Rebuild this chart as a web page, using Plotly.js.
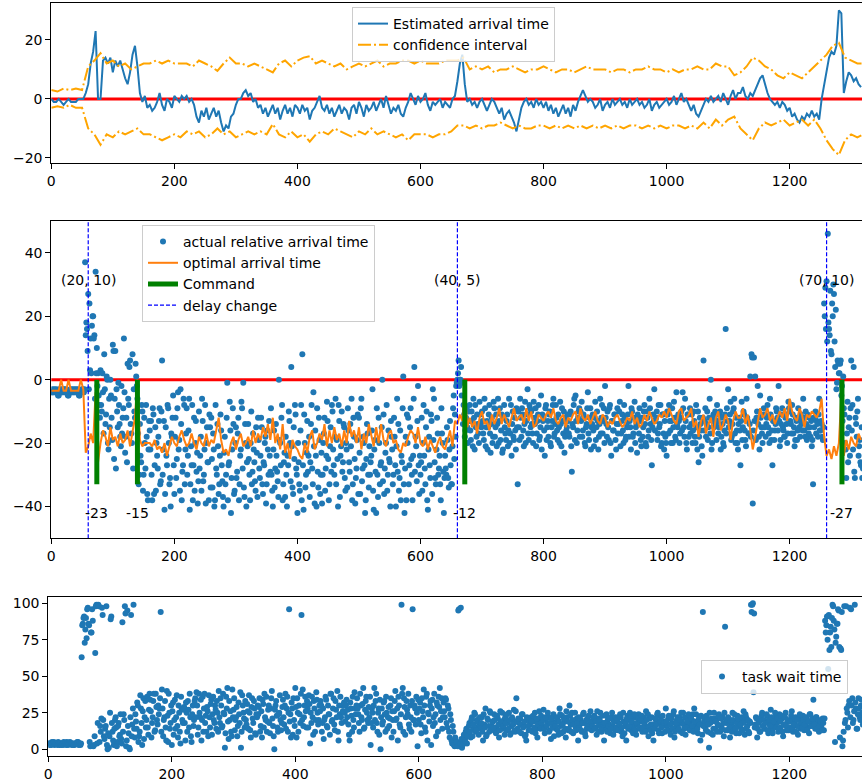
<!DOCTYPE html>
<html><head><meta charset="utf-8">
<script src="https://cdn.plot.ly/plotly-3.0.1.min.js"></script>
<style>html,body{margin:0;padding:0;overflow:hidden;background:#fff;width:862px;height:784px}#chart{width:920px;height:784px}</style>
</head><body><div id="chart"></div>
<script>
// ---------- Panel 1: estimated arrival time ----------
const estStep = 4;
const estimated = [
0,-1,-1,0,-1,-2,-1,0,-1,-1,
-1,0,0,0,2,5,12,16,23,0,
0,13,14,12,14,9,13,11,13,10,
7,5,9,15,18,11,2,-1,1,-3,
-2,-4,-3,-1,2,-2,-4,0,-1,-3,
1,0,-1,1,0,1,-1,0,-2,-6,
-8,-4,-6,-3,-7,-5,-3,-6,-4,-8,
-11,-9,-10,-6,-5,-2,0,0,2,3,
1,2,-1,0,-3,-2,-5,-3,-6,-4,
-2,-5,-3,-7,-4,-2,-5,-3,-6,-2,
-3,-5,-2,-4,-3,-7,-4,-3,-1,1,
-3,-4,-2,-5,-3,-6,-4,-2,-5,-3,
-4,-7,-3,-2,-5,-1,-3,-6,-2,-4,
-3,-1,-4,-2,0,-3,1,-2,-5,-3,
-4,-2,-5,-6,-3,-1,2,0,-2,1,
-1,0,2,-2,-4,-1,-2,-1,0,-3,
-1,-2,-3,0,1,6,12,15,5,-1,
0,-2,-1,-3,-1,0,-2,-4,-2,0,
-1,-3,-5,-3,-7,-5,-4,-6,-8,-11,
-7,-3,-1,0,-2,-1,-3,0,-2,-1,
-3,-1,-4,-2,-5,-3,-6,-4,-2,-5,
-3,-6,-2,-4,-1,1,3,1,-1,0,
-1,-3,-2,0,-4,-2,-1,-3,0,-2,
-1,0,-2,-1,-3,0,-2,-1,0,-2,
-1,-3,-2,0,-4,-2,-1,-3,-2,-1,
0,-2,-1,1,-2,0,2,-1,0,-2,
-4,-2,-5,-6,-4,-2,0,-1,1,-1,
0,1,-1,2,0,-2,1,3,0,2,
2,4,1,0,2,1,3,5,7,8,
5,2,0,-1,-2,-1,-3,-1,-2,-4,
-3,-6,-5,-7,-8,-6,-7,-5,-6,-4,
-6,-5,-7,0,5,10,14,16,15,18,
30,29,2,6,9,8,6,7,5,4];
const ciStep = 10;
const ciUpper = [
3,2.5,3.5,3,3.5,3,11,13,15.5,12,
13,11,12,10,11,12,12,13,12,13,
12,12,12,11,13,12,11,9.5,12,14,
12,12,11,12,11,10,9,12,13,11,
13,14,14.5,12,13,12,11,12,10,11,
12,11,12,13,11,12,12,13,13,12,
13,12,12,12,13,13,13,14,10,11,
10,11,9,10,10,11,10,9,10,10,
11,10,9,10,10,9,10,11,10,10,
10,9,10,10,9,10,10,11,10,10,
9,10,9,10,10,11,10,10,12,11,
11,8,9,11,14,13,11,10,8,7,
9,8,7,9,11,13,15,18,19,14,
13,12,12];
const ciLower = [
-3,-2.5,-3,-2,-3,-3,-10,-12,-15.5,-12,
-13,-11,-12,-11,-10,-12,-12,-13,-14,-13,
-12,-13,-11,-12,-11,-13,-12,-10,-12,-11,
-13,-12,-11,-12,-11,-12,-8.5,-12,-13,-11,
-13,-12,-14.5,-12,-11,-12,-10,-11,-12,-13,
-11,-12,-10,-12,-11,-12,-13,-12,-14,-12,
-12,-12,-13,-12,-12,-11,-9,-9,-10,-9,
-10,-9,-9,-8,-9,-10,-9,-10,-10,-9,
-9,-10,-9,-10,-9,-10,-9,-10,-9,-10,
-9,-10,-9,-10,-9,-9,-10,-9,-10,-9,
-10,-9,-9,-10,-9,-10,-8,-10,-7,-9,
-7,-6,-10,-12,-14,-10,-8,-9,-8,-7,
-9,-8,-7,-9,-7,-10,-14,-17,-19,-14,
-12,-13,-12];

// ---------- Panel 2: arrival times ----------
// even time steps (0, 2, 4, ...)
const actualArrivalEven = [
-4,-3,-4,-4,-3,-4,-5,-4,-3,-4,
-4,-4,-3,-4,-5,-4,-4,-3,-4,-4,
-3,-4,-4,-5,-4,-3,-4,-3,14,16,
27,24,13,17,20,14,34,10,2,-8,
3,-10,-4,8,-14,1,-20,-6,0,-12,
11,-25,9,-3,-15,-8,-18,-2,-12,13,
-23,-12,5,-8,6,-17,8,-3,-12,1,
-6,-33,-14,-26,-10,-30,-20,-8,-36,-22,
-16,-13,-38,-11,-27,-35,-24,-18,-9,-32,
6,-22,-41,-15,-27,-9,-33,-40,-18,-5,
-36,-12,-25,-4,-19,-3,-38,-27,-8,-22,
-9,-24,-6,-33,-27,-38,-12,-20,-29,-39,
-10,-24,-35,-13,-30,-8,-20,-26,-38,-15,
-12,-34,-22,-38,-28,-14,-36,-24,-16,-32,
-40,-18,-30,-1,-27,-7,-42,-22,-14,-35,
-15,-29,-12,-33,-22,-9,-1,-37,-20,-26,
-14,-30,-20,-33,-17,-26,-35,-23,-12,-28,
-24,-15,-36,-27,-18,-33,-22,-13,-29,-30,
-40,-16,-28,-24,-32,0,-20,-12,-38,-26,
-37,-30,-24,-10,-20,4,-34,-15,-8,-28,
-42,-26,-35,-8,8,-41,-20,-30,-13,-24,
-37,-14,-28,-4,-39,-24,-9,-34,-19,-30,
-39,-20,-12,-28,-7,-25,-33,-15,-8,-22,
-30,-6,-19,-40,-13,-24,-10,-26,-15,-35,
-22,-9,-26,-14,-6,-33,-18,-39,-28,-11,
-12,-36,-6,-28,-20,-42,-25,-17,-34,-30,
-24,-3,-41,-19,-42,-30,-12,-33,-26,0,
-11,-28,-20,-35,-16,-26,-13,-22,-30,-18,
-40,-6,-14,-31,-38,-26,1,-42,-18,-11,
-12,-27,-9,-30,-24,4,-18,-32,-2,-36,
-30,-12,-20,-24,-33,-10,-41,-18,-31,-13,
-3,-6,-31,-22,-17,-28,-33,-9,-20,-42,
-24,-30,-19,-34,-13,-33,-21,-5,-11,-2,
0,6,0,4,-1,-8,-18,-12,-15,-10,
-8,-19,-13,-6,-22,-15,-11,-17,-7,-14,
-10,-17,-6,-21,-13,-15,-8,-23,-12,-18,
-9,-15,-21,-6,-13,-19,-11,-22,-8,-17,
-13,-21,-6,-17,-24,-10,-19,-16,-9,-33,
-15,-6,-18,-11,-21,-7,-13,-3,-19,-9,
-10,-17,-7,-14,-21,-13,-8,-18,-5,-11,
-12,-24,-8,-15,-18,-10,-21,-13,-6,-17,
-8,-16,-11,-20,-14,-9,-17,-23,-12,-15,
-13,-18,-10,-29,-15,-6,-5,-20,-12,-9,
-10,-7,-16,-12,-21,-14,-4,-19,-9,-15,
-11,-21,-7,-15,-13,-18,-6,-12,-17,-9,
-2,-14,-10,-19,-8,-24,-13,-16,-11,-22,
-9,-14,-7,-17,-11,-20,-12,-18,-15,-2,
-13,-22,-10,-17,-7,-15,-23,-12,-9,-19,
-12,-15,-8,-20,-10,-18,-6,-14,-27,-11,
-3,-13,-10,-17,-15,-8,-20,-11,-22,-18,
-24,-11,-8,-16,-13,-20,-7,-18,-4,-15,
-13,-17,-10,-4,-15,-6,-20,-11,-18,-9,
-14,-20,-10,-18,-8,-22,-26,-12,-16,-24,
6,-13,-18,-10,-15,-6,0,-20,-11,-12,
-14,-8,-17,-11,-22,-12,-20,-16,16,-9,
-3,-13,-7,-18,-10,-6,-20,-16,-22,-12,
-27,-7,-15,-11,-19,-6,-13,-17,1,8,
-39,7,1,-12,-2,-18,-5,-15,-20,-9,
-11,-14,-8,-17,-6,-19,-27,-13,-16,-9,
-12,-2,-21,-14,-9,-16,-18,-11,-20,-7,
-10,-14,-8,-17,-21,-12,-19,-9,-15,-11,
-13,-6,-16,-10,-19,-15,-12,-18,-21,-33,
-15,-10,-13,-18,-6,-16,-14,-19,24,29,
31,46,16,28,8,20,27,4,-3,6,
2,5,-5,-13,-9,-20,-31,-7,-15,-24,
6,-8,4,-31,-14,-10,-24,-19,-27,-31];
// odd time steps (1, 3, 5, ...)
const actualArrivalOdd = [
-4,-4,-3,-4,-4,-5,-3,-4,-4,-3,
-3,-4,-4,-5,-4,-3,-4,-4,-3,-4,
-4,-3,-5,-4,-4,-3,-4,37,18,9,
-3,3,2,20,13,-6,2,-2,-5,-12,
-8,2,-17,-3,-11,0,-22,-15,-5,-19,
9,-6,-28,-10,-1,-14,-21,-17,-9,-4,
-18,-26,-6,4,-14,-20,-28,-10,5,-2,
-17,-30,-24,-8,-35,-12,-28,-18,-38,-13,
-22,-30,-9,-36,-15,-20,-28,-13,-33,-10,
-30,-13,-36,-24,-8,-20,-31,-17,-12,-27,
-18,-31,-9,-22,-35,-14,-29,-6,-33,-17,
-30,-16,-41,-21,-8,-27,-35,-13,-23,-32,
-28,-18,-6,-32,-22,-39,-15,-26,-11,-34,
-25,-17,-40,-8,-30,-21,-33,-11,-27,-37,
-23,-33,-12,-38,-26,-16,-31,-9,-36,-20,
-31,-17,-38,-24,-7,-28,-34,-14,-40,-21,
-25,-38,-10,-29,-22,-32,-15,-37,-19,-31,
-12,-33,-26,-20,-39,-16,-30,-24,-9,-35,
-22,-34,-14,-29,-37,-19,-27,-8,-33,-23,
-18,-40,-27,-13,-32,-21,-36,-25,-11,-30,
-20,-33,-16,-38,-27,-11,-34,-23,-29,-18,
-26,-8,-33,-21,-16,-40,-29,-12,-36,-23,
-30,-17,-35,-24,-13,-38,-21,-29,-10,-27,
-18,-33,-25,-8,-37,-21,-29,-14,-31,-20,
-34,-16,-29,-21,-38,-12,-25,-31,-19,-36,
-23,-9,-32,-18,-27,-38,-14,-30,-21,-26,
-16,-35,-22,-29,-9,-37,-20,-27,-15,-32,
-36,-23,-8,-30,-25,-40,-18,-33,-12,-27,
-21,-29,-35,-16,-24,-9,-33,-28,-38,-20,
-33,-15,-25,-38,-6,-29,-21,-13,-27,-24,
-26,-35,-8,-28,-15,-38,-22,-27,-11,-36,
-19,-26,-33,-12,-30,-24,-38,-17,-29,-31,
-28,-15,-31,-22,-27,-33,-9,-25,-18,-1,
2,-2,0,-5,-14,-11,-16,-9,-20,-13,
-16,-10,-21,-12,-8,-18,-14,-20,-11,-15,
-13,-19,-9,-15,-22,-11,-17,-14,-20,-7,
-18,-11,-14,-20,-9,-16,-23,-12,-15,-19,
-11,-16,-20,-8,-14,-18,-12,-22,-15,-10,
-19,-12,-9,-16,-14,-20,-11,-17,-8,-15,
-14,-20,-12,-9,-17,-11,-19,-15,-22,-13,
-16,-9,-19,-13,-11,-20,-15,-8,-18,-14,
-12,-19,-15,-7,-21,-13,-10,-18,-16,-11,
-17,-11,-21,-14,-8,-19,-13,-16,-10,-18,
-13,-18,-11,-20,-15,-9,-17,-12,-22,-14,
-16,-12,-19,-10,-22,-14,-17,-8,-13,-20,
-12,-18,-15,-9,-20,-13,-16,-11,-19,-14,
-17,-10,-21,-13,-16,-8,-19,-14,-11,-18,
-15,-9,-18,-12,-20,-14,-11,-17,-13,-21,
-18,-10,-14,-21,-12,-16,-9,-19,-15,-13,
-16,-12,-19,-8,-14,-21,-11,-17,-13,-20,
-10,-17,-13,-20,-9,-15,-12,-19,-14,-11,
-20,-12,-16,-9,-18,-13,-22,-11,-15,-17,
-11,-16,-13,-20,-15,-10,-18,-14,-21,-12,
-16,-9,-14,-19,-12,-17,-22,-13,-15,-10,
-19,-13,-15,-10,-18,-14,-21,-11,-17,-13,
-15,-11,-19,-14,-9,-17,-12,-20,-14,-16,
-13,-19,-10,-16,-21,-12,-17,-14,-18,7,
-16,-13,-19,-10,-14,-22,-12,-17,-11,-15,
-18,-12,-15,-20,-11,-16,-13,-19,-14,-10,
-16,-13,-19,-11,-15,-18,-12,-14,-17,-9,
-13,-17,-11,-15,-19,-13,-16,-12,-18,-14,
-16,-12,-18,-14,-11,-17,-15,-13,-19,-12,
-12,-17,-14,-11,-16,-13,-18,-15,20,16,
12,18,14,9,24,30,12,22,-1,5,
2,6,-2,1,-11,-22,-17,-26,-12,-9,
-16,-22,-29,-12,-18,-6,-21,-26,-15,-28];
const optStep = 4;
const optimalArrival = [
-3.5,-3.5,-3.5,-3.5,0,-3.5,-3.5,0,-3.5,-3.5,
-3.5,-3.5,0,-3,-23,-21,-17,-20,-4,-26,
-20,-16,-18,-21,-15,-19,-18,-21,-17,-20,
-19,-16,-21,-17,-12,0,-19,-21,-20,-20,
-20,-21,-19,-22,-21,-23,-20,-24,-21,-18,
-20,-21,-18,-16,-19,-21,-20,-17,-20,-22,
-18,-20,-21,-17,-21,-19,-20,-16,-12,-19,
-23,-22,-24,-20,-18,-22,-19,-17,-21,-20,
-18,-21,-16,-20,-17,-19,-15,-18,-14,-19,
-12,-20,-17,-22,-14,-23,-20,-25,-19,-21,
-22,-24,-25,-20,-23,-18,-16,-22,-20,-17,
-19,-14,-21,-16,-20,-15,-19,-17,-21,-16,
-20,-13,-18,-16,-20,-15,-22,-17,-20,-14,
-18,-21,-15,-20,-14,-19,-21,-17,-16,-20,
-19,-22,-23,-20,-21,-18,-16,-17,-20,-15,
-20,-21,-18,-22,-19,-21,-23,-20,-18,-21,
-22,-19,-16,-21,-13,-14,-11,-13,-2,-15,
-12,-15,-13,-17,-12,-10,-14,-13,-16,-11,
-14,-12,-9,-14,-11,-13,-15,-12,-9,-13,
-12,-11,-14,-9,-13,-10,-15,-14,-11,-12,
-13,-11,-10,-12,-9,-13,-14,-12,-11,-15,
-12,-13,-11,-10,-14,-9,-12,-13,-11,-14,
-12,-10,-13,-14,-11,-12,-15,-13,-14,-12,
-11,-13,-15,-14,-12,-13,-10,-14,-12,-15,
-14,-11,-13,-10,-12,-14,-13,-11,-12,-10,
-12,-9,-11,-13,-14,-10,-9,-13,-12,-11,
-9,-15,-13,-18,-13,-11,-17,-14,-12,-18,
-12,-10,-16,-14,-11,-13,-19,-13,-10,-12,
-12,-9,-14,-11,-16,-22,-18,-13,-9,-12,
-11,-9,-13,-11,-14,-12,-10,-12,-9,-13,
-6,-10,-12,-13,-9,-11,-15,-11,-12,-10,
-11,-12,-10,-6,-18,-24,-22,-25,-21,-24,
-20,-5,-24,-19,-22,-18,-20,-21,-17,-19];
const commandX = [74, 140, 672, 1285];
const commandLabels = ['-23', '-15', '-12', '-27'];
const commandLow = -33;
const delayX = [60, 660, 1260];
const delayLabels = ['(20, 10)', '(40, 5)', '(70, 10)'];

// ---------- Panel 3: task wait time ----------
const waitTimeEven = [
4,3,4,5,4,3,4,4,5,3,
4,4,3,4,4,5,3,4,4,3,
4,3,4,4,5,4,3,63,86,91,
82,76,97,85,2,80,88,3,66,99,
18,98,16,21,92,9,14,98,0,1,
25,91,12,3,20,15,5,18,10,7,
87,24,98,2,95,11,0,92,17,99,
8,19,32,5,12,28,3,35,22,15,
36,10,38,26,18,33,12,38,20,30,
28,94,41,9,22,15,40,5,25,18,
3,32,20,14,37,8,25,4,28,18,
29,6,25,33,15,22,5,30,20,35,
39,10,38,22,6,36,28,18,12,26,
37,15,34,24,20,30,14,25,40,18,
30,16,25,1,36,42,7,20,12,41,
27,13,22,9,32,18,1,37,25,15,
20,31,14,25,8,35,18,28,10,22,
24,35,16,8,31,38,20,12,27,18,
28,40,16,0,30,23,12,25,20,18,
34,17,38,28,12,96,24,32,10,20,
42,8,25,30,18,92,41,22,36,15,
28,37,4,18,22,33,12,39,25,20,
26,30,18,7,22,34,15,24,10,38,
20,35,13,27,40,6,24,22,30,26,
25,30,22,17,6,28,12,20,39,24,
35,24,12,30,20,42,15,33,25,18,
22,3,28,15,42,33,18,25,10,0,
28,19,33,12,25,22,16,30,8,20,
26,40,21,6,30,15,99,42,35,10,
33,24,17,30,12,96,20,28,36,2,
20,32,11,26,41,15,36,6,24,30,
3,34,22,18,9,30,36,42,26,14,
32,22,34,15,28,8,20,4,12,2,
3,5,95,2,97,1,6,8,12,4,
10,18,8,22,14,25,12,20,15,17,
14,22,6,17,28,10,20,12,25,16,
19,24,12,15,21,8,26,17,14,20,
22,13,18,25,10,16,20,27,12,35,
14,18,21,11,24,16,9,6,20,13,
17,22,12,19,25,14,8,20,16,23,
15,27,11,20,17,22,13,7,19,24,
18,14,21,10,28,16,23,12,19,8,
22,13,30,17,25,11,19,15,21,6,
16,20,12,24,18,9,14,22,17,26,
13,19,23,15,10,21,17,25,12,18,
6,14,24,20,17,11,22,16,19,13,
15,21,18,24,12,9,19,16,6,23,
20,25,13,18,15,22,10,17,24,14,
19,12,22,16,26,14,9,21,17,11,
6,15,20,24,13,18,22,11,16,19,
28,16,21,13,10,18,24,8,15,20,
17,22,12,19,25,14,10,21,16,18,
13,20,24,28,15,18,11,22,6,17,
94,19,15,23,12,1,18,21,10,25,
14,20,17,24,12,16,22,9,84,18,
13,21,8,17,25,15,19,11,23,16,
20,14,18,26,10,22,16,12,19,99,
99,39,15,22,8,18,12,20,25,16,
14,19,23,11,17,27,13,20,16,22,
18,12,24,15,21,9,17,25,13,19,
15,20,26,12,18,22,16,10,21,14,
19,23,13,17,21,15,11,24,18,16,
20,14,22,17,12,19,15,21,13,88,
85,75,92,80,70,99,88,5,77,86,
95,8,68,2,12,18,98,25,30,97,
96,35,20,99,28,14,35,22,30,25];
const waitTimeOdd = [
4,4,3,4,5,4,4,3,4,4,
3,4,5,4,3,4,4,5,4,4,
3,4,4,5,3,4,4,85,90,73,
90,96,86,5,80,96,2,9,98,4,
99,5,12,97,20,7,16,3,11,9,
89,18,6,14,22,2,16,9,24,4,
12,20,93,6,16,1,22,9,28,14,
24,14,30,9,37,18,26,7,33,20,
15,27,34,8,22,38,13,29,17,24,
35,12,28,20,33,6,23,38,14,30,
26,10,34,22,16,30,12,36,20,27,
18,32,12,27,38,9,24,16,33,22,
30,15,25,34,20,12,38,23,29,9,
22,31,10,36,18,27,33,12,22,35,
15,38,24,11,28,19,33,26,9,22,
35,20,29,16,24,39,12,30,21,33,
17,26,37,13,29,21,33,11,24,30,
29,12,26,34,15,22,36,19,30,11,
35,21,9,27,33,15,24,37,13,29,
22,30,14,36,25,19,8,28,35,16,
29,35,12,24,38,20,16,30,26,33,
15,31,25,36,10,28,20,34,17,30,
33,12,28,20,36,16,30,24,38,19,
28,17,33,22,12,30,36,18,26,32,
19,34,27,10,32,23,36,15,28,30,
28,18,38,22,31,14,27,36,20,29,
36,18,25,30,20,38,12,28,34,22,
17,32,24,36,14,29,21,35,26,12,
33,20,28,36,17,24,38,12,29,22,
27,38,14,22,33,20,30,17,25,34,
28,17,35,22,30,12,38,25,19,33,
28,16,38,24,32,12,29,20,35,22,
26,35,18,30,12,24,6,16,3,8,
5,2,96,4,7,3,10,6,14,9,
16,12,20,9,17,24,13,19,10,22,
18,12,24,15,9,21,16,26,13,19,
15,20,11,23,17,13,19,25,16,10,
18,24,14,20,11,22,17,13,26,19,
21,12,17,24,15,19,10,22,16,20,
13,19,23,15,11,21,17,26,14,18,
20,14,22,16,25,12,18,21,15,9,
16,22,13,19,24,11,17,21,14,26,
19,14,23,12,20,17,25,13,18,22,
21,13,18,25,11,20,16,23,14,19,
16,22,14,19,26,12,20,15,23,17,
18,23,12,16,21,14,25,10,19,22,
20,13,17,22,15,25,11,18,21,14,
16,22,19,11,24,13,18,21,15,20,
23,15,18,12,20,24,16,13,22,17,
14,21,17,25,11,19,15,23,18,12,
19,13,23,17,21,14,26,12,18,22,
14,20,25,11,17,22,15,19,24,13,
21,16,12,19,24,14,20,17,23,10,
16,22,13,20,17,25,11,19,14,21,
19,12,23,16,21,14,18,25,13,20,
22,15,19,12,20,24,14,18,21,11,
17,22,13,19,24,15,20,11,18,94,
100,93,17,21,14,19,12,23,16,20,
18,24,13,20,16,22,11,19,25,15,
21,14,19,23,12,17,22,16,20,13,
19,23,14,17,21,12,20,16,24,18,
15,20,17,22,13,19,24,16,21,34,
17,22,14,20,16,19,13,18,21,80,
91,55,68,84,90,98,82,73,86,96,
70,69,94,6,98,20,28,15,33,22,
30,18,26,32,14,24,28,20,34,17];

// ---------- build ----------
const W = 920, H = 784;
const idx = (arr, step, start) => arr.map((_, i) => (start || 0) + i * step);
const BLUE = '#1f77b4', ORANGE = '#ff7f0e', CI = '#ffa500';
const y1Range = [-21.6, 32.4], y2Range = [-50, 50], y3Range = [-4.4, 104.1];

const traces = [
  {x: idx(estimated, estStep), y: estimated, type: 'scatter', mode: 'lines',
   line: {color: BLUE, width: 2}, name: 'Estimated arrival time', xaxis: 'x', yaxis: 'y', legend: 'legend'},
  {x: idx(ciUpper, ciStep), y: ciUpper, type: 'scatter', mode: 'lines',
   line: {color: CI, width: 2, dash: '13px,3px,2px,3px'}, name: 'confidence interval', xaxis: 'x', yaxis: 'y', legend: 'legend'},
  {x: idx(ciLower, ciStep), y: ciLower, type: 'scatter', mode: 'lines',
   line: {color: CI, width: 2, dash: '13px,3px,2px,3px'}, name: 'confidence interval', showlegend: false, xaxis: 'x', yaxis: 'y'},

  {x: idx(actualArrivalEven, 2, 0).concat(idx(actualArrivalOdd, 2, 1)), y: actualArrivalEven.concat(actualArrivalOdd),
   type: 'scatter', mode: 'markers', marker: {color: BLUE, size: 6},
   name: 'actual relative arrival time', xaxis: 'x2', yaxis: 'y2', legend: 'legend2'},
  {x: idx(optimalArrival, optStep), y: optimalArrival, type: 'scatter', mode: 'lines',
   line: {color: ORANGE, width: 2}, name: 'optimal arrival time', xaxis: 'x2', yaxis: 'y2', legend: 'legend2'},
  {x: commandX.flatMap(v => [v, v, null]), y: commandX.flatMap(() => [0, commandLow, null]),
   type: 'scatter', mode: 'lines', line: {color: '#008000', width: 5},
   name: 'Command', xaxis: 'x2', yaxis: 'y2', legend: 'legend2'},
  {x: delayX.flatMap(v => [v, v, null]), y: delayX.flatMap(() => [y2Range[0], y2Range[1], null]),
   type: 'scatter', mode: 'lines', line: {color: '#0000ff', width: 1.2, dash: '4px,2px'},
   name: 'delay change', xaxis: 'x2', yaxis: 'y2', legend: 'legend2'},

  {x: idx(waitTimeEven, 2, 0).concat(idx(waitTimeOdd, 2, 1)), y: waitTimeEven.concat(waitTimeOdd),
   type: 'scatter', mode: 'markers', marker: {color: BLUE, size: 6},
   name: 'task wait time', xaxis: 'x3', yaxis: 'y3', legend: 'legend3'}
];

const axisCommon = {
  showline: true, mirror: true, linecolor: '#000', linewidth: 1,
  ticks: 'outside', ticklen: 5, tickwidth: 1, tickcolor: '#000',
  showgrid: false, zeroline: false, tickfont: {size: 14, color: '#000'}
};
const xTicks = [0, 200, 400, 600, 800, 1000, 1200];
const annotations = [];
delayX.forEach((v, i) => annotations.push({x: v, y: 31.5, xref: 'x2', yref: 'y2', text: delayLabels[i],
  showarrow: false, font: {size: 14, color: '#000'}}));
commandX.forEach((v, i) => annotations.push({x: v, y: -42, xref: 'x2', yref: 'y2', text: commandLabels[i],
  showarrow: false, font: {size: 14, color: '#000'}}));

const legendCommon = {xanchor: 'left', yanchor: 'top', bgcolor: 'rgba(255,255,255,0.8)',
  bordercolor: '#cccccc', borderwidth: 1, font: {size: 14, color: '#000'}};

const layout = {
  width: W, height: H, margin: {l: 0, r: 0, t: 0, b: 0},
  paper_bgcolor: '#fff', plot_bgcolor: '#fff',
  font: {family: 'DejaVu Sans', size: 14, color: '#000'},
  showlegend: true,
  xaxis: Object.assign({}, axisCommon, {domain: [51.3 / W, 900 / W], range: [0, (900 - 51.3) / 0.6153], anchor: 'y', tickvals: xTicks}),
  yaxis: Object.assign({}, axisCommon, {domain: [(H - 162.7) / H, (H - 3.3) / H], range: y1Range, anchor: 'x', tickvals: [-20, 0, 20]}),
  xaxis2: Object.assign({}, axisCommon, {domain: [51.3 / W, 900 / W], range: [0, (900 - 51.3) / 0.6153], anchor: 'y2', tickvals: xTicks}),
  yaxis2: Object.assign({}, axisCommon, {domain: [(H - 538.3) / H, (H - 221) / H], range: y2Range, anchor: 'x2', tickvals: [-40, -20, 0, 20, 40]}),
  xaxis3: Object.assign({}, axisCommon, {domain: [48.3 / W, 900 / W], range: [0, (900 - 48.3) / 0.6175], anchor: 'y3', tickvals: xTicks}),
  yaxis3: Object.assign({}, axisCommon, {domain: [(H - 755.7) / H, (H - 597.3) / H], range: y3Range, anchor: 'x3', tickvals: [0, 25, 50, 75, 100]}),
  shapes: [
    {type: 'line', xref: 'x domain', yref: 'y', x0: 0, x1: 1, y0: 0, y1: 0, line: {color: '#ff0000', width: 3}, layer: 'below'},
    {type: 'line', xref: 'x2 domain', yref: 'y2', x0: 0, x1: 1, y0: 0, y1: 0, line: {color: '#ff0000', width: 3}, layer: 'below'}
  ],
  annotations: annotations,
  legend: Object.assign({}, legendCommon, {x: 352 / W, y: 1 - 7 / H}),
  legend2: Object.assign({}, legendCommon, {x: 142 / W, y: 1 - 225 / H}),
  legend3: Object.assign({}, legendCommon, {x: 701 / W, y: 1 - 660 / H})
};

Plotly.newPlot('chart', traces, layout, {staticPlot: true, displayModeBar: false});
</script></body></html>
